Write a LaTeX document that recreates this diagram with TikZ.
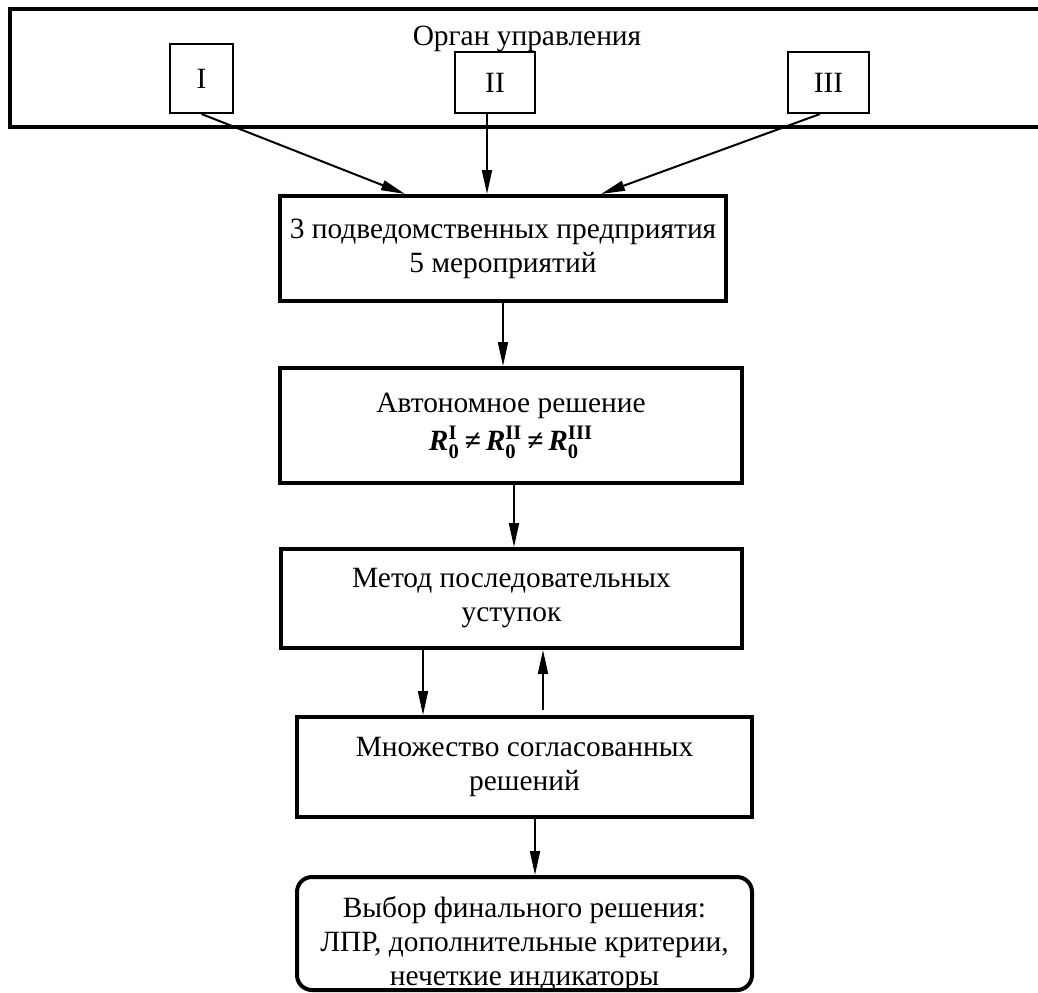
\documentclass[tikz,border=0pt]{standalone}
\usepackage{fontspec}
\setmainfont{Liberation Serif}
\usepackage{amsmath}
\usetikzlibrary{arrows.meta}
\newcommand{\solR}[1]{{\bfseries\itshape R}$_{\textbf{0}}^{\textbf{#1}}$}

\begin{document}
\begin{tikzpicture}[x=0.5pt,y=-0.5pt,>={Triangle[length=12pt,width=5pt]},
  blk/.style={draw,line width=2pt,inner sep=0pt,align=center},
  dep/.style={draw,line width=1pt,inner sep=0pt},
  arr/.style={->,line width=1pt}]
\fontsize{14.7}{17}\selectfont
\useasboundingbox (0,0) rectangle (1038,992);
%
\node (org) at (528,68) [blk,minimum width=518pt,minimum height=59pt] {};
\node (orgT) at (527,45) [anchor=base] {Орган управления};
\node (dI) at (201.5,78.5) [dep,minimum width=31.5pt,minimum height=34.5pt] {I};
\node (dII) at (495,82.5) [dep,minimum width=40pt,minimum height=30.5pt] {II};
\node (dIII) at (828.5,82.5) [dep,minimum width=40.5pt,minimum height=30.5pt] {III};
%
\node (ent) at (503,248.5) [blk,minimum width=223pt,minimum height=52.5pt] {3 подведомственных предприятия\\5 мероприятий};
\node (auto) at (511,425.5) [blk,minimum width=231pt,minimum height=57.5pt] {Автономное решение\\[2pt]\solR{I}\,{\bfseries ≠}\,\solR{II}\,{\bfseries ≠}\,\solR{III}};
\node (meth) at (511.5,598.5) [blk,minimum width=230.5pt,minimum height=49.5pt] {Метод последовательных\\уступок};
\node (agr) at (524.5,767) [blk,minimum width=227.5pt,minimum height=50pt] {Множество согласованных\\решений};
\node (fin) at (524.5,933.5) [blk,rounded corners=7.5pt,minimum width=227.5pt,minimum height=56.5pt] {};
\node (finT) at (524.5,944.5) [align=center,inner sep=0pt] {Выбор финального решения:\\ЛПР, дополнительные критерии,\\нечеткие индикаторы};
%
\draw [arr] (dI.south) -- ([xshift=-49pt]ent.north);
\draw [arr] ([xshift=-4pt]dII.south) -- ([xshift=-8pt]ent.north);
\draw [arr] ([xshift=-4.25pt]dIII.south) -- ([xshift=49pt]ent.north);
\draw [arr] (ent.south) -- (ent.south |- auto.north);
\draw [arr] ([xshift=1.5pt]auto.south) -- ([xshift=1.5pt]auto.south |- meth.north);
\draw [arr] ([xshift=-44.25pt]meth.south) -- ([xshift=-50.75pt]agr.north);
\coordinate (back) at (543,710);
\draw [arr] (back) -- (back |- meth.south);
\draw [arr] ([xshift=5.25pt]agr.south) -- ([xshift=5.25pt]fin.north);
\end{tikzpicture}
\end{document}
